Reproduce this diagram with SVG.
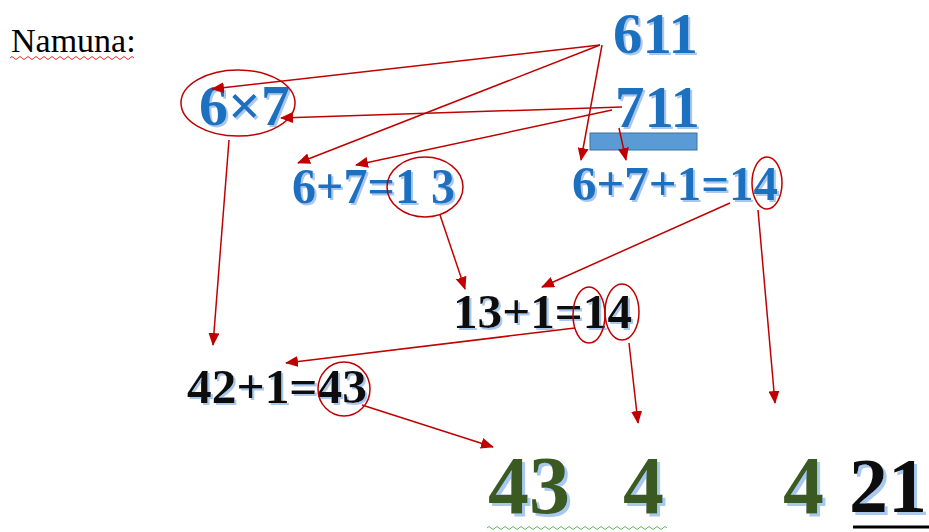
<svg xmlns="http://www.w3.org/2000/svg" width="929" height="532" viewBox="0 0 929 532">
<style>
.t{font-family:"Liberation Serif","Times New Roman",serif;font-weight:bold}
.s2{filter:url(#sh2)}
.s3{filter:url(#sh3)}
.bl{fill:#1f6fc0}
.bk{fill:#111}
.gr{fill:#3a5a24}
.ell{fill:none;stroke:#c00000;stroke-width:1.5}
.con{fill:none;stroke:#c00000;stroke-width:1.5;marker-end:url(#ah)}
</style>
<defs>
<marker id="ah" markerUnits="userSpaceOnUse" markerWidth="13" markerHeight="11" refX="12" refY="5.5" orient="auto">
<path d="M0,0 L13,5.5 L0,11 z" fill="#c00000"/>
</marker>
<filter id="sh2" x="-10%" y="-10%" width="130%" height="130%">
<feOffset in="SourceAlpha" dx="2" dy="2" result="o"/>
<feFlood flood-color="#a9c8ee"/>
<feComposite in2="o" operator="in" result="s"/>
<feMerge><feMergeNode in="s"/><feMergeNode in="SourceGraphic"/></feMerge>
</filter>
<filter id="sh3" x="0" y="0" width="1.05" height="1.04">
<feOffset in="SourceAlpha" dx="3" dy="3" result="o"/>
<feFlood flood-color="#a9c8ee"/>
<feComposite in2="o" operator="in" result="s"/>
<feMerge><feMergeNode in="s"/><feMergeNode in="SourceGraphic"/></feMerge>
</filter>
</defs>
<rect width="929" height="532" fill="#fff"/>

<g id="title">
<text x="11" y="52" font-family="Liberation Serif, serif" font-size="34" fill="#000">Namuna:</text>
<path d="M10,58 q2,-3 4,0 t4,0 t4,0 t4,0 t4,0 t4,0 t4,0 t4,0 t4,0 t4,0 t4,0 t4,0 t4,0 t4,0 t4,0 t4,0 t4,0 t4,0 t4,0 t4,0 t4,0 t4,0 t4,0 t4,0 t4,0 t4,0 t4,0 t4,0 t4,0 t4,0 t4,0" fill="none" stroke="#e03030" stroke-width="1"/>
</g>

<g id="n611">
<text class="t bl s2" x="613" y="53" font-size="58" textLength="85" lengthAdjust="spacingAndGlyphs">611</text>
</g>

<g id="n711">
<text class="t bl s2" x="615" y="127" font-size="60" textLength="85" lengthAdjust="spacingAndGlyphs">711</text>
<rect x="590" y="133" width="107" height="17" fill="#5b9bd5" stroke="#41719c" stroke-width="1"/>
</g>

<g id="n6x7">
<text class="t bl s2" x="199" y="125" font-size="56" textLength="91" lengthAdjust="spacingAndGlyphs">6×7</text>
<ellipse class="ell" cx="238" cy="103" rx="57" ry="33"/>
</g>

<g id="n13">
<text class="t bl s2" x="292" y="203" font-size="50" textLength="163" lengthAdjust="spacingAndGlyphs">6+7=1 3</text>
<ellipse class="ell" cx="425" cy="187" rx="38" ry="30"/>
</g>

<g id="n14a">
<text class="t bl s2" x="572" y="200" font-size="48" textLength="206" lengthAdjust="spacingAndGlyphs">6+7+1=14</text>
<ellipse class="ell" cx="767" cy="183" rx="15" ry="26"/>
</g>

<g id="n14b">
<text class="t bk s2" x="453" y="328" font-size="48" textLength="179" lengthAdjust="spacingAndGlyphs">13+1=14</text>
<ellipse class="ell" cx="589" cy="315" rx="16" ry="28"/>
<ellipse class="ell" cx="622" cy="312" rx="17" ry="28"/>
</g>

<g id="n43">
<text class="t bk s2" x="187" y="403" font-size="49" textLength="180" lengthAdjust="spacingAndGlyphs">42+1=43</text>
<ellipse class="ell" cx="344" cy="389" rx="26" ry="27"/>
</g>

<g id="result">
<text class="t gr s3" x="488" y="513" font-size="82" textLength="82" lengthAdjust="spacingAndGlyphs">43</text>
<text class="t gr s3" x="623" y="513" font-size="82">4</text>
<text class="t gr s3" x="783" y="513" font-size="82">4</text>
<text class="t bk s3" x="849" y="512" font-size="78">21</text>
<line x1="853" y1="527" x2="929" y2="527" stroke="#000" stroke-width="3"/>
<path d="M487,528 q2,-3 4,0 t4,0 t4,0 t4,0 t4,0 t4,0 t4,0 t4,0 t4,0 t4,0 t4,0 t4,0 t4,0 t4,0 t4,0 t4,0 t4,0 t4,0 t4,0 t4,0 t4,0 t4,0 t4,0 t4,0 t4,0 t4,0 t4,0 t4,0 t4,0 t4,0 t4,0 t4,0 t4,0 t4,0 t4,0 t4,0 t4,0 t4,0 t4,0 t4,0 t4,0 t4,0 t4,0 t4,0 t4,0" fill="none" stroke="#5cb85c" stroke-width="1"/>
</g>

<g id="connectors">
<path class="con" d="M600,45 L212,89"/>
<path class="con" d="M600,45 L298,163"/>
<path class="con" d="M602,45 L581,160"/>
<path class="con" d="M622,107 L281,118"/>
<path class="con" d="M612,110 L356,165"/>
<path class="con" d="M619,128 L626,160"/>
<path class="con" d="M440,215 L465,289"/>
<path class="con" d="M730,203 L542,287"/>
<path class="con" d="M758,210 L775,403"/>
<path class="con" d="M575,328 L286,363"/>
<path class="con" d="M629,343 L638,423"/>
<path class="con" d="M229,140 L213,345"/>
<path class="con" d="M362,405 L493,447"/>
</g>
</svg>
